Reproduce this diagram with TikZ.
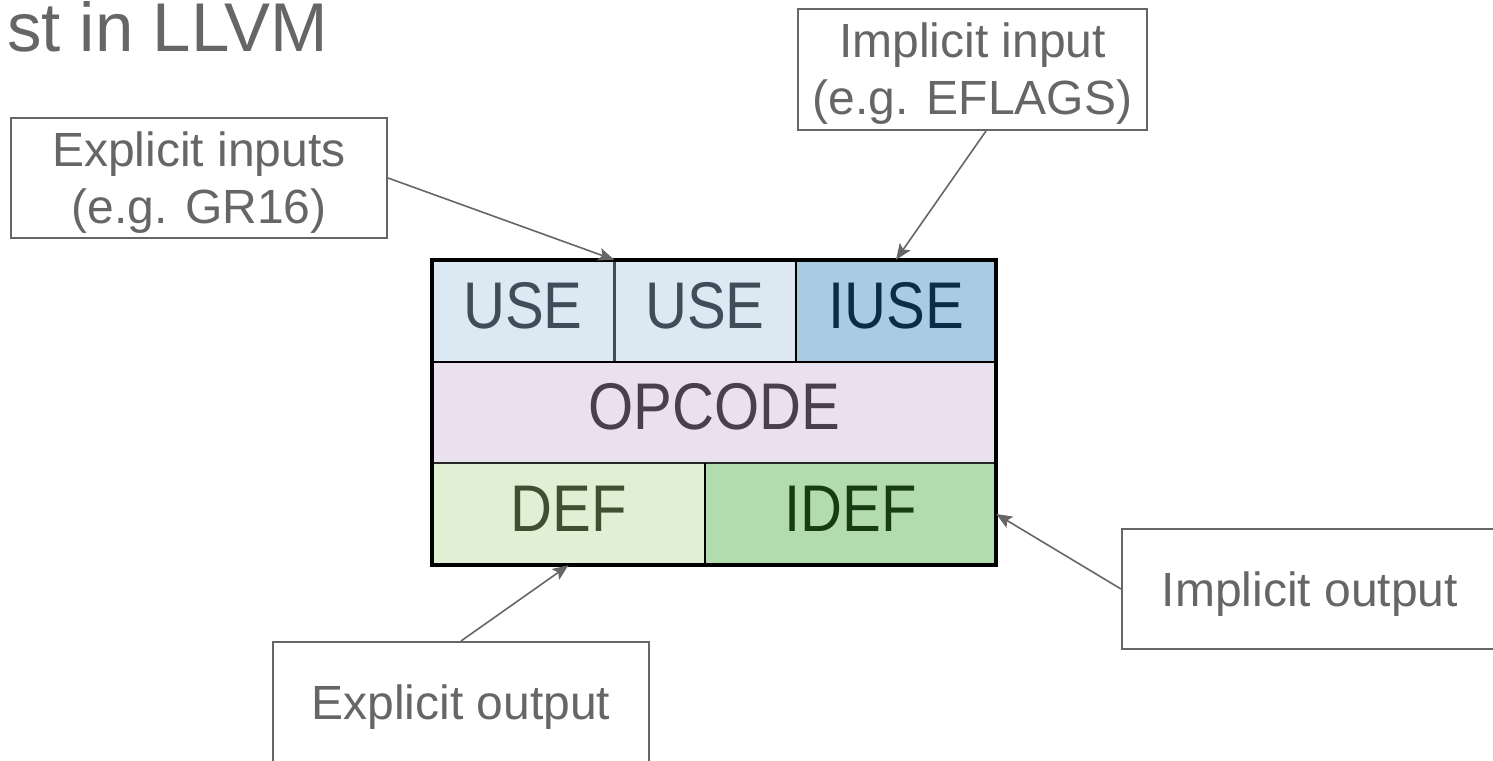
\documentclass[tikz,border=0pt]{standalone}
\usepackage{fontspec}
\setmainfont{Liberation Sans}
\newfontfamily\cellfamily[FakeStretch=0.88]{Liberation Sans}
\usetikzlibrary{arrows.meta}

\definecolor{labelgray}{HTML}{666666}
\definecolor{usefill}{HTML}{DCE9F3}
\definecolor{usetext}{HTML}{3E4D59}
\definecolor{iusefill}{HTML}{A9CCE3}
\definecolor{iusetext}{HTML}{0B2D48}
\definecolor{opfill}{HTML}{E9E1EE}
\definecolor{optext}{HTML}{49404D}
\definecolor{deffill}{HTML}{E1F0D4}
\definecolor{deftext}{HTML}{3F5030}
\definecolor{ideffill}{HTML}{B2DBAE}
\definecolor{ideftext}{HTML}{173C14}

% taller first line, so two-line callout text sits a little lower
\newcommand{\firstline}{\rule{0pt}{43pt}}

\begin{document}
\begin{tikzpicture}[x=1pt,y=-1pt,
  cell/.style={minimum height=102pt, inner sep=0pt, text height=42pt, text depth=8pt,
    font=\cellfamily\fontsize{66}{72}\selectfont},
  tag/.style={draw=labelgray, line width=2pt, inner sep=0pt, text=labelgray,
    font=\fontsize{48}{57}\selectfont, align=center},
  onetag/.style={tag, minimum width=376pt, minimum height=120pt, text height=34pt, text depth=0pt},
  pointer/.style={draw=labelgray, line width=1.6pt,
    -{Stealth[length=16pt,width=13pt,inset=3.5pt]}}]

\useasboundingbox (0,0) rectangle (1493,760);
\clip (0,0) rectangle (1493,760);

% heading
\node[anchor=base west, inner sep=0pt, text=labelgray,
      font=\fontsize{69}{80}\selectfont] (title) at (7,52) {st in LLVM};

% instruction layout
\node[cell, minimum width=182pt, fill=usefill, text=usetext] (use1) at (523,311) {USE};
\node[cell, minimum width=182pt, fill=usefill, text=usetext] (use2) at (705,311) {USE};
\node[cell, minimum width=200pt, fill=iusefill, text=iusetext] (iuse) at (896,311) {IUSE};
\node[cell, minimum width=564pt, minimum height=101pt, fill=opfill, text=optext] (opcode) at (714,412.5) {OPCODE};
\node[cell, minimum width=273pt, fill=deffill, text=deftext] (def) at (568.5,514) {DEF};
\node[cell, minimum width=291pt, fill=ideffill, text=ideftext] (idef) at (850.5,514) {IDEF};

% cell separators and frame
\draw[usetext, line width=3pt] (use1.north east) -- (use1.south east);
\draw[black, line width=2pt] (iuse.north west) -- (iuse.south west);
\draw[black, line width=2.5pt] (opcode.north west) -- (opcode.north east);
\draw[black!85, line width=2pt] (opcode.south west) -- (opcode.south east);
\draw[black, line width=2pt] (idef.north west) -- (idef.south west);
\draw[black, line width=3.5pt] (use1.north west) rectangle (idef.south east);

% callouts
\node[tag, minimum width=376pt, minimum height=120pt] (ein) at (199,178) {\firstline Explicit inputs\\(e.g. GR16)};
\node[tag, minimum width=349pt, minimum height=121pt] (iin) at (972.5,69.5) {\firstline Implicit input\\(e.g. EFLAGS)};
\node[onetag] (iout) at (1310,589) {Implicit output};
\node[onetag] (eout) at (461,702) {Explicit output};

% pointers
\draw[pointer] (ein.east) -- (use1.north east);
\draw[pointer] ([xshift=13.5pt]iin.south) -- (iuse.north);
\draw[pointer] (iout.west) -- (idef.east);
\draw[pointer] (eout.north) -- (def.south);
\end{tikzpicture}
\end{document}
